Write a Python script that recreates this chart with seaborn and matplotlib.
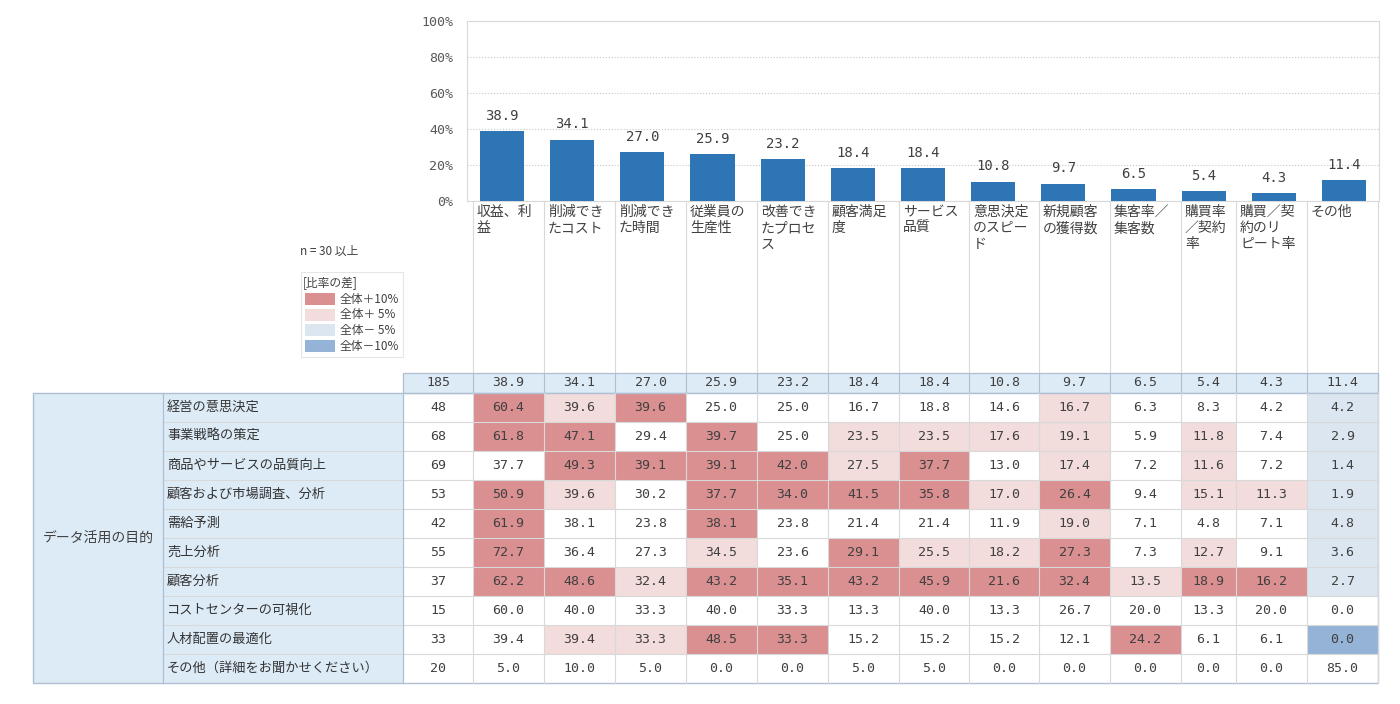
import numpy as np
import pandas as pd
import matplotlib
matplotlib.use("Agg")
import matplotlib.pyplot as plt
from matplotlib.colors import ListedColormap
from matplotlib.patches import Rectangle
import seaborn as sns

# Data: overall shares (bar chart + header row)
categories = ["収益、利\n益", "削減でき\nたコスト", "削減でき\nた時間", "従業員の\n生産性",
              "改善でき\nたプロセ\nス", "顧客満足\n度", "サービス\n品質", "意思決定\nのスピー\nド",
              "新規顧客\nの獲得数", "集客率／\n集客数", "購買率\n／契約\n率", "購買／契\n約のリ\nピート率",
              "その他"]
overall = [38.9, 34.1, 27.0, 25.9, 23.2, 18.4, 18.4, 10.8, 9.7, 6.5, 5.4, 4.3, 11.4]
n_total = 185

group_label = "データ活用の目的"
row_labels = ["経営の意思決定", "事業戦略の策定", "商品やサービスの品質向上", "顧客および市場調査、分析",
              "需給予測", "売上分析", "顧客分析", "コストセンターの可視化", "人材配置の最適化",
              "その他（詳細をお聞かせください）"]
row_n = [48, 68, 69, 53, 42, 55, 37, 15, 33, 20]

row_decision = [60.4, 39.6, 39.6, 25.0, 25.0, 16.7, 18.8, 14.6, 16.7, 6.3, 8.3, 4.2, 4.2]
row_strategy = [61.8, 47.1, 29.4, 39.7, 25.0, 23.5, 23.5, 17.6, 19.1, 5.9, 11.8, 7.4, 2.9]
row_quality = [37.7, 49.3, 39.1, 39.1, 42.0, 27.5, 37.7, 13.0, 17.4, 7.2, 11.6, 7.2, 1.4]
row_market = [50.9, 39.6, 30.2, 37.7, 34.0, 41.5, 35.8, 17.0, 26.4, 9.4, 15.1, 11.3, 1.9]
row_demand = [61.9, 38.1, 23.8, 38.1, 23.8, 21.4, 21.4, 11.9, 19.0, 7.1, 4.8, 7.1, 4.8]
row_sales = [72.7, 36.4, 27.3, 34.5, 23.6, 29.1, 25.5, 18.2, 27.3, 7.3, 12.7, 9.1, 3.6]
row_customer = [62.2, 48.6, 32.4, 43.2, 35.1, 43.2, 45.9, 21.6, 32.4, 13.5, 18.9, 16.2, 2.7]
row_costcenter = [60.0, 40.0, 33.3, 40.0, 33.3, 13.3, 40.0, 13.3, 26.7, 20.0, 13.3, 20.0, 0.0]
row_staffing = [39.4, 39.4, 33.3, 48.5, 33.3, 15.2, 15.2, 15.2, 12.1, 24.2, 6.1, 6.1, 0.0]
row_other = [5.0, 10.0, 5.0, 0.0, 0.0, 5.0, 5.0, 0.0, 0.0, 0.0, 0.0, 0.0, 85.0]

legend_labels = ["全体＋10%", "全体＋ 5%", "全体－ 5%", "全体－10%"]

values = np.array([row_decision, row_strategy, row_quality, row_market, row_demand,
                   row_sales, row_customer, row_costcenter, row_staffing, row_other])

# colour level of each cell (only for n >= 30)
diff = np.round(values - np.array(overall), 1)
level = np.zeros(values.shape, dtype=int)
level[diff >= 5] = 1
level[diff > 10] = 2
level[diff <= -5] = -1
level[diff < -10] = -2
level[np.array(row_n) < 30, :] = 0

FONT = ["Noto Sans CJK JP", "DejaVu Sans"]
MONO = ["DejaVu Sans Mono", "Noto Sans CJK JP"]
plt.rcParams["font.family"] = FONT
TXT = "#404040"
BAR = "#2E75B6"
HEAD = "#DDEBF7"
DARK_RED, LIGHT_RED = "#DA8F91", "#F2DCDC"
LIGHT_BLUE, DARK_BLUE = "#DCE6F1", "#95B3D7"
INNER = "#D9D9D9"
OUTER = "#AEBFD2"

fig = plt.figure(figsize=(14, 7.04), dpi=100)

# full-figure axes in pixel units for the table
ax_t = fig.add_axes([0, 0, 1, 1])
ax_t.set_xlim(0, 1400)
ax_t.set_ylim(704, 0)
ax_t.axis("off")

edges = np.array([473, 544, 615, 686, 757, 828, 899, 969, 1039, 1110, 1181, 1236, 1307, 1378])
centers = (edges[:-1] + edges[1:]) / 2
head_top, head_bot = 201, 373
tot_bot = 393
row_h = 29
row_edges = tot_bot + row_h * np.arange(len(row_labels) + 1)

# header columns with category names
for x in edges:
    ax_t.plot([x, x], [head_top, head_bot], color=INNER, lw=0.8)
for x0, lab in zip(edges[:-1], categories):
    ax_t.text(x0 + 4, head_top + 4, lab, fontsize=10, color=TXT, va="top", ha="left",
              linespacing=1.2)

# total row
ax_t.add_patch(Rectangle((403, head_bot), 1378 - 403, tot_bot - head_bot, facecolor=HEAD,
                         edgecolor=OUTER, lw=0.9))
ax_t.text(438, (head_bot + tot_bot) / 2, str(n_total), ha="center", va="center", fontsize=9.5,
          color=TXT, family=MONO)
for x, v in zip(centers, overall):
    ax_t.text(x, (head_bot + tot_bot) / 2, f"{v:.1f}", ha="center", va="center", fontsize=9.5,
              color=TXT, family=MONO)
for x in edges:
    ax_t.plot([x, x], [head_bot, tot_bot], color=OUTER, lw=0.8)

# coloured value cells
cmap = ListedColormap([DARK_BLUE, LIGHT_BLUE, "white", LIGHT_RED, DARK_RED])
ax_t.pcolormesh(edges, row_edges, level + 2, cmap=cmap, vmin=-0.5, vmax=4.5)

# label cells
ax_t.add_patch(Rectangle((33, tot_bot), 130, row_edges[-1] - tot_bot, facecolor=HEAD, edgecolor="none"))
ax_t.add_patch(Rectangle((163, tot_bot), 240, row_edges[-1] - tot_bot, facecolor=HEAD, edgecolor="none"))
ax_t.text(98, (tot_bot + row_edges[-1]) / 2, group_label, ha="center", va="center", fontsize=10, color=TXT)

for i, (lab, n) in enumerate(zip(row_labels, row_n)):
    yc = (row_edges[i] + row_edges[i + 1]) / 2
    ax_t.text(167, yc, lab, ha="left", va="center", fontsize=9.5, color="#333333")
    ax_t.text(438, yc, str(n), ha="center", va="center", fontsize=9.5, color=TXT, family=MONO)
    for x, v in zip(centers, values[i]):
        ax_t.text(x, yc, f"{v:.1f}", ha="center", va="center", fontsize=9.5, color=TXT, family=MONO)

# inner grid lines
for y in row_edges[1:-1]:
    ax_t.plot([163, 1378], [y, y], color=INNER, lw=0.8)
for x in edges:
    ax_t.plot([x, x], [tot_bot, row_edges[-1]], color=INNER, lw=0.8)
ax_t.plot([403, 403], [tot_bot, row_edges[-1]], color=OUTER, lw=0.9)
ax_t.plot([163, 163], [tot_bot, row_edges[-1]], color=OUTER, lw=0.9)
ax_t.add_patch(Rectangle((33, tot_bot), 1378 - 33, row_edges[-1] - tot_bot, facecolor="none",
                         edgecolor=OUTER, lw=1.0))

# n note and legend
ax_t.text(300, 251, "n = 30 以上", ha="left", va="center", fontsize=8.5, color=TXT)
ax_t.add_patch(Rectangle((301, 272), 102, 85, facecolor="white", edgecolor="#E6E6E6", lw=0.8))
ax_t.text(303, 283, "[比率の差]", ha="left", va="center", fontsize=8.5, color=TXT)
for k, (lab, col) in enumerate(zip(legend_labels, [DARK_RED, LIGHT_RED, LIGHT_BLUE, DARK_BLUE])):
    yc = 299 + k * 15.7
    ax_t.add_patch(Rectangle((305, yc - 6), 30, 12, facecolor=col, edgecolor="none"))
    ax_t.text(340, yc, lab, ha="left", va="center", fontsize=8.5, color=TXT)

# bar chart
ax_b = fig.add_axes([467 / 1400, 1 - 201 / 704, 912 / 1400, 180 / 704])
df = pd.DataFrame({"cat": [c.replace("\n", "") for c in categories], "pct": overall})
sns.barplot(data=df, x="cat", y="pct", color=BAR, saturation=1, width=0.63, ax=ax_b, zorder=3)
ax_b.bar_label(ax_b.containers[0], fmt="%.1f", padding=6, fontsize=10, color=TXT, family=MONO)
ax_b.set_ylim(0, 100)
ax_b.set_yticks(range(0, 101, 20))
ax_b.set_yticklabels([f"{t}%" for t in range(0, 101, 20)], fontsize=9.5, color="#595959", family=MONO)
ax_b.set_xticks([])
ax_b.set_xlabel("")
ax_b.set_ylabel("")
ax_b.tick_params(axis="y", length=0, pad=10)
ax_b.grid(axis="y", color="#C8C8C8", linestyle=":", lw=0.8, zorder=0)
for s in ax_b.spines.values():
    s.set_color("#D9D9D9")
    s.set_linewidth(0.8)
ax_b.set_facecolor("none")

fig.savefig("out.png", dpi=100)
